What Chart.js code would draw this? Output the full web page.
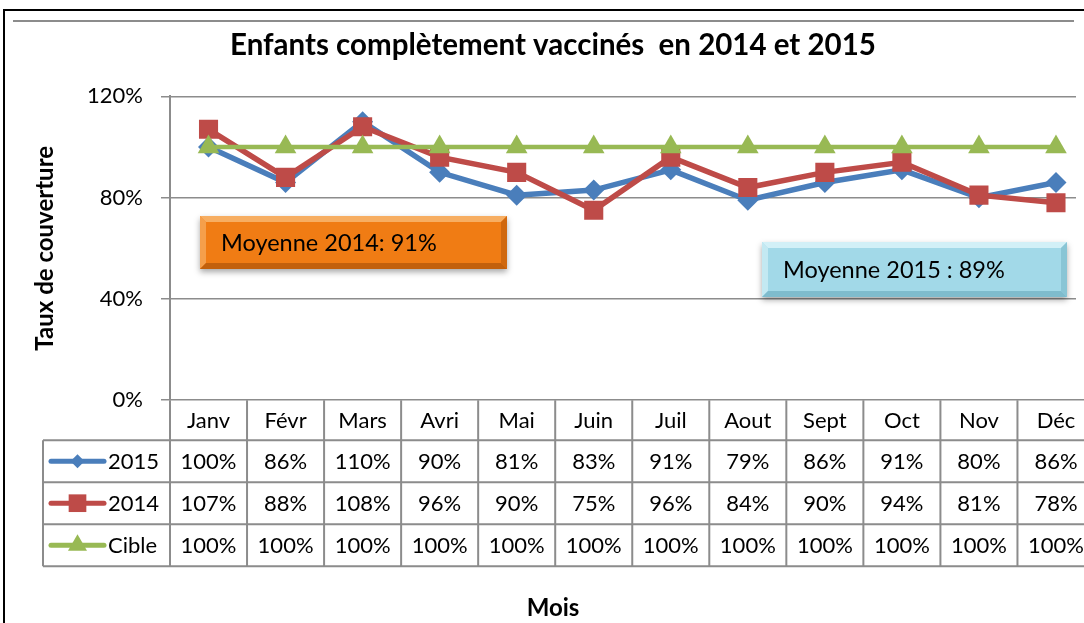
<!DOCTYPE html>
<html>
<head>
<meta charset="utf-8">
<script src="https://cdn.jsdelivr.net/npm/chart.js@4.4.0/dist/chart.umd.min.js"></script>
<style>
  html, body { margin: 0; padding: 0; background: #fff; overflow: hidden; }
  #wrap { position: absolute; left: 0; top: 0; width: 1108px; height: 623px; }
</style>
</head>
<body>
<div id="wrap"><canvas id="c" width="1108" height="623"></canvas></div>
<script>
const months = ['Janv', 'Févr', 'Mars', 'Avri', 'Mai', 'Juin', 'Juil', 'Aout', 'Sept', 'Oct', 'Nov', 'Déc'];
const taux2015 = [100, 86, 110, 90, 81, 83, 91, 79, 86, 91, 80, 86];
const taux2014 = [107, 88, 108, 96, 90, 75, 96, 84, 90, 94, 81, 78];
const cible = [100, 100, 100, 100, 100, 100, 100, 100, 100, 100, 100, 100];
const yTicks = [0, 40, 80, 120];
const moyenne2014 = 'Moyenne 2014: 91%';
const moyenne2015 = 'Moyenne 2015 : 89%';

const FONT = 'Lato';
const GRAY = '#8c8c8c';

// legend key marker sizes inside the data table
const keyRadius = { rectRot: 7, rect: 12.5, triangle: 11 };

function bevelBox(ctx, x, y, w, h, base, light, dark, text) {
    ctx.save();
    ctx.shadowColor = 'rgba(0,0,0,0.35)';
    ctx.shadowBlur = 6;
    ctx.shadowOffsetY = 3;
    ctx.fillStyle = base;
    ctx.fillRect(x, y, w, h);
    ctx.restore();
    const b = 6;
    ctx.save();
    ctx.fillStyle = light;
    ctx.beginPath();
    ctx.moveTo(x, y); ctx.lineTo(x + w, y); ctx.lineTo(x + w - b, y + b); ctx.lineTo(x + b, y + b);
    ctx.closePath(); ctx.fill();
    ctx.globalAlpha = 0.7;
    ctx.beginPath();
    ctx.moveTo(x, y); ctx.lineTo(x + b, y + b); ctx.lineTo(x + b, y + h - b); ctx.lineTo(x, y + h);
    ctx.closePath(); ctx.fill();
    ctx.globalAlpha = 1;
    ctx.fillStyle = dark;
    ctx.beginPath();
    ctx.moveTo(x, y + h); ctx.lineTo(x + w, y + h); ctx.lineTo(x + w - b, y + h - b); ctx.lineTo(x + b, y + h - b);
    ctx.closePath(); ctx.fill();
    ctx.globalAlpha = 0.7;
    ctx.beginPath();
    ctx.moveTo(x + w, y); ctx.lineTo(x + w, y + h); ctx.lineTo(x + w - b, y + h - b); ctx.lineTo(x + w - b, y + b);
    ctx.closePath(); ctx.fill();
    ctx.restore();
    ctx.fillStyle = '#000';
    ctx.font = '23.5px ' + FONT;
    ctx.textAlign = 'left';
    ctx.textBaseline = 'middle';
    ctx.fillText(text, x + 21, y + h / 2 + 1);
}

const tableauPlugin = {
    id: 'tableau',
    beforeDraw(chart) {
        const ctx = chart.ctx;
        ctx.save();
        ctx.strokeStyle = '#000';
        ctx.lineWidth = 2;
        ctx.beginPath();
        ctx.moveTo(4, chart.height);
        ctx.lineTo(4, 10);
        ctx.lineTo(chart.width, 10);
        ctx.stroke();
        ctx.strokeStyle = GRAY;
        ctx.beginPath();
        ctx.moveTo(13, 21);
        ctx.lineTo(1074, 21);
        ctx.stroke();
        ctx.restore();
    },
    beforeDatasetsDraw(chart) {
        // plot frame stops short of the last column in the original
        const a = chart.chartArea;
        chart.ctx.save();
        chart.ctx.fillStyle = '#fff';
        chart.ctx.fillRect(1076, a.top - 3, chart.width, a.bottom - a.top - 1);
        chart.ctx.restore();
    },
    afterDraw(chart) {
        const {ctx, chartArea: a, scales: {x}} = chart;
        const n = months.length;
        const colW = (a.right - a.left) / n;
        const headBottom = a.bottom + 40;
        const rowH = 42;
        const sets = chart.data.datasets;
        const tableBottom = headBottom + rowH * sets.length;
        const keyLeft = 43;

        ctx.save();
        ctx.strokeStyle = GRAY;
        ctx.lineWidth = 2;
        ctx.beginPath();
        for (let k = 0; k <= n; k++) {
            const px = a.left + k * colW;
            ctx.moveTo(px, a.bottom);
            ctx.lineTo(px, tableBottom);
        }
        ctx.moveTo(keyLeft, headBottom);
        ctx.lineTo(keyLeft, tableBottom);
        for (let r = 0; r <= sets.length; r++) {
            const py = headBottom + r * rowH;
            ctx.moveTo(keyLeft, py);
            ctx.lineTo(a.right, py);
        }
        ctx.stroke();

        ctx.font = '22px ' + FONT;
        ctx.textBaseline = 'middle';
        sets.forEach((ds, r) => {
            const cy = headBottom + r * rowH + rowH / 2;
            ctx.strokeStyle = ds.borderColor;
            ctx.lineWidth = 5;
            ctx.lineCap = 'round';
            ctx.beginPath();
            ctx.moveTo(51, cy);
            ctx.lineTo(104, cy);
            ctx.stroke();
            ctx.fillStyle = ds.backgroundColor;
            Chart.helpers.drawPoint(ctx, {pointStyle: ds.pointStyle, radius: keyRadius[ds.pointStyle], rotation: 0, borderWidth: 0}, 77.5, cy);
            ctx.fillStyle = '#000';
            ctx.textAlign = 'left';
            ctx.fillText(ds.label, 108, cy + 1);
            ctx.textAlign = 'center';
            ds.data.forEach((v, j) => {
                ctx.fillText(v + '%', x.getPixelForValue(j), cy + 1);
            });
        });
        ctx.restore();

        bevelBox(ctx, 200, 216, 307, 53, '#f07c14', '#f7ae62', '#c2600c', moyenne2014);
        bevelBox(ctx, 762, 242, 305, 55, '#a2d9e8', '#d2f0f7', '#7fbccd', moyenne2015);
    }
};

new Chart(document.getElementById('c'), {
    type: 'line',
    data: {
        labels: months,
        datasets: [
            {
                label: '2015', data: taux2015, order: 2,
                borderColor: '#4a7ebb', backgroundColor: '#4a7ebb',
                borderWidth: 5.5, pointStyle: 'rectRot', pointRadius: 10.5,
                pointBorderWidth: 0, tension: 0
            },
            {
                label: '2014', data: taux2014, order: 1,
                borderColor: '#be4b48', backgroundColor: '#be4b48',
                borderWidth: 5.5, pointStyle: 'rect', pointRadius: 13.5,
                pointBorderWidth: 0, tension: 0
            },
            {
                label: 'Cible', data: cible, order: 0,
                borderColor: '#98b954', backgroundColor: '#98b954',
                borderWidth: 4.5, pointStyle: 'triangle', pointRadius: 12.5,
                pointBorderWidth: 0, tension: 0
            }
        ]
    },
    options: {
        responsive: false,
        animation: false,
        layout: { padding: { left: 0, right: 2, top: 0, bottom: 0 } },
        plugins: {
            legend: { display: false },
            tooltip: { enabled: false },
            title: {
                display: true,
                text: 'Enfants complètement vaccinés  en 2014 et 2015',
                color: '#000',
                font: { family: FONT, size: 29.5, weight: 'bold' },
                padding: { top: 28, bottom: 33 }
            },
            subtitle: {
                display: true,
                position: 'bottom',
                text: 'Mois',
                color: '#000',
                font: { family: FONT, size: 24, weight: 'bold' },
                padding: { top: 0, bottom: 0 }
            }
        },
        scales: {
            x: {
                offset: true,
                grid: { display: false, drawTicks: false },
                border: { display: false },
                ticks: { color: '#000', font: { family: FONT, size: 22 }, padding: 8, maxRotation: 0 },
                afterFit(s) { s.height = 194; }
            },
            y: {
                min: 0,
                max: 120,
                afterBuildTicks(s) { s.ticks = yTicks.map(v => ({ value: v })); },
                ticks: { color: '#000', font: { family: FONT, size: 22 }, padding: 18, callback: v => v + '%' },
                grid: { color: GRAY, lineWidth: 1.5, tickLength: 9 },
                border: { color: GRAY, width: 2 },
                title: {
                    display: true,
                    text: 'Taux de couverture',
                    color: '#000',
                    font: { family: FONT, size: 24, weight: 'bold' },
                    padding: { top: 31, bottom: 0 }
                },
                afterFit(s) { s.width = 170; }
            }
        }
    },
    plugins: [tableauPlugin]
});
</script>
</body>
</html>
